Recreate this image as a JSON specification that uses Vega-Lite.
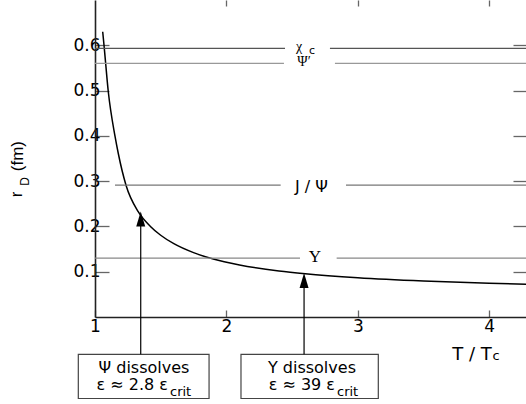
{
  "$schema": "https://vega.github.io/schema/vega-lite/v6.json",
  "width": 431,
  "height": 317,
  "autosize": "none",
  "padding": {"left": 95, "top": 0, "right": 0, "bottom": 87},
  "background": "white",
  "view": {"stroke": null},
  "config": {"axis": {"grid": false, "title": null}},
  "datasets": {
    "curve": [
      {"T": 1.0586, "r": 0.630}, {"T": 1.0685, "r": 0.6005}, {"T": 1.1012, "r": 0.4974},
      {"T": 1.1522, "r": 0.3994}, {"T": 1.1773, "r": 0.361}, {"T": 1.236, "r": 0.291},
      {"T": 1.33, "r": 0.232}, {"T": 1.42, "r": 0.2005}, {"T": 1.5, "r": 0.1805},
      {"T": 1.6, "r": 0.1619}, {"T": 1.75, "r": 0.1421}, {"T": 1.9, "r": 0.128},
      {"T": 2.1, "r": 0.115}, {"T": 2.4, "r": 0.1017}, {"T": 2.6, "r": 0.0955},
      {"T": 3.0, "r": 0.0866}, {"T": 3.5, "r": 0.0793}, {"T": 4.0, "r": 0.0744},
      {"T": 4.28, "r": 0.0723}
    ],
    "levels": [
      {"line": "chi", "T1": 1.0, "T2": 2.446, "r": 0.593},
      {"line": "chi", "T1": 2.788, "T2": 4.28, "r": 0.593},
      {"line": "psi2", "T1": 1.0, "T2": 2.438, "r": 0.56},
      {"line": "psi2", "T1": 2.826, "T2": 4.28, "r": 0.56},
      {"line": "jpsi", "T1": 1.152, "T2": 2.413, "r": 0.291},
      {"line": "jpsi", "T1": 2.91, "T2": 4.28, "r": 0.291},
      {"line": "ups", "T1": 1.0, "T2": 2.56, "r": 0.13},
      {"line": "ups", "T1": 2.839, "T2": 4.28, "r": 0.13}
    ],
    "arrows": [
      {"T": 1.348, "r0": -0.0824, "r1": 0.2166},
      {"T": 2.591, "r0": -0.0824, "r1": 0.0807}
    ],
    "boxes": [
      {"T0": 0.873, "T1": 1.868, "r0": -0.0824, "r1": -0.18},
      {"T0": 2.111, "T1": 3.156, "r0": -0.0824, "r1": -0.18}
    ]
  },
  "layer": [
    {
      "data": {"name": "curve"},
      "mark": {"type": "line", "interpolate": "monotone", "color": "black", "strokeWidth": 1.5},
      "encoding": {
        "x": {"field": "T", "type": "quantitative",
          "scale": {"domain": [1, 4.28], "nice": false, "zero": false},
          "axis": {"orient": "bottom", "values": [1, 2, 3, 4], "format": "d", "tickSize": -7, "labelPadding": 8,
            "labelFlush": false, "domainColor": "#222", "domainWidth": 1.6, "tickColor": "#666", "tickWidth": 1.3,
            "labelFont": "DejaVu Sans", "labelFontSize": 17, "labelColor": "black", "title": null, "grid": false}},
        "y": {"field": "r", "type": "quantitative",
          "scale": {"domain": [0, 0.7], "nice": false, "zero": false},
          "axis": {"orient": "left", "values": [0.1, 0.2, 0.3, 0.4, 0.5, 0.6], "format": ".1f", "tickSize": -14, "labelPadding": 9,
            "domainColor": "#222", "domainWidth": 1.6, "tickColor": "#666", "tickWidth": 1.3,
            "labelFont": "DejaVu Sans", "labelFontSize": 17, "labelColor": "black", "title": null, "grid": false}}
      }
    },
    {
      "data": {"name": "levels"},
      "mark": {"type": "rule", "strokeWidth": 1.3},
      "encoding": {
        "x": {"field": "T1", "type": "quantitative",
          "axis": {"orient": "top", "values": [2, 3, 4], "labels": false, "domain": false, "tickSize": -6,
            "tickColor": "#666", "tickWidth": 1.3, "title": null, "grid": false}},
        "x2": {"field": "T2"},
        "y": {"field": "r", "type": "quantitative",
          "axis": {"orient": "right", "values": [0.1, 0.2, 0.3, 0.4, 0.5, 0.6], "labels": false, "domain": false, "tickSize": -13,
            "tickColor": "#666", "tickWidth": 1.3, "title": null, "grid": false}},
        "color": {"field": "line", "type": "nominal",
          "scale": {"domain": ["chi", "psi2", "jpsi", "ups"], "range": ["#555555", "#999999", "#777777", "#888888"]},
          "legend": null}
      }
    },
    {
      "data": {"name": "boxes"},
      "mark": {"type": "rect", "fill": "white", "stroke": "#444", "strokeWidth": 1.2},
      "encoding": {
        "x": {"field": "T0", "type": "quantitative", "axis": null},
        "x2": {"field": "T1"},
        "y": {"field": "r0", "type": "quantitative", "axis": null},
        "y2": {"field": "r1"}
      }
    },
    {
      "data": {"name": "arrows"},
      "mark": {"type": "rule", "color": "black", "strokeWidth": 1.2},
      "encoding": {
        "x": {"field": "T", "type": "quantitative", "axis": null},
        "y": {"field": "r0", "type": "quantitative", "axis": null},
        "y2": {"field": "r1"}
      }
    },
    {
      "data": {"name": "arrows"},
      "mark": {"type": "point", "shape": "M0,-1L0.6,1L-0.6,1Z", "size": 225, "filled": true, "color": "black", "opacity": 1},
      "encoding": {
        "x": {"field": "T", "type": "quantitative", "axis": null},
        "y": {"field": "r1", "type": "quantitative", "axis": null}
      }
    },
    {
      "data": {"values": [
        {"text": "χ", "T": 2.5525, "r": 0.5884},
        {"text": "Ψ′", "T": 2.5906, "r": 0.5553}
      ]},
      "mark": {"type": "text", "font": "Liberation Serif", "fontSize": 14, "align": "center", "baseline": "alphabetic", "color": "black"},
      "encoding": {
        "x": {"field": "T", "type": "quantitative", "axis": null},
        "y": {"field": "r", "type": "quantitative", "axis": null},
        "text": {"field": "text"}
      }
    },
    {
      "data": {"values": [
        {"text": "Υ", "T": 2.6743, "r": 0.1216}
      ]},
      "mark": {"type": "text", "font": "Liberation Serif", "fontSize": 17, "align": "center", "baseline": "alphabetic", "color": "black"},
      "encoding": {
        "x": {"field": "T", "type": "quantitative", "axis": null},
        "y": {"field": "r", "type": "quantitative", "axis": null},
        "text": {"field": "text"}
      }
    },
    {
      "data": {"values": [
        {"text": "c", "T": 2.6286, "r": 0.5806}
      ]},
      "mark": {"type": "text", "font": "DejaVu Sans", "fontSize": 11, "align": "left", "baseline": "alphabetic", "color": "black"},
      "encoding": {
        "x": {"field": "T", "type": "quantitative", "axis": null},
        "y": {"field": "r", "type": "quantitative", "axis": null},
        "text": {"field": "text"}
      }
    },
    {
      "data": {"values": [
        {"text": "J / Ψ", "T": 2.6476, "r": 0.2768}
      ]},
      "mark": {"type": "text", "font": "DejaVu Sans", "fontSize": 16, "align": "center", "baseline": "alphabetic", "color": "black"},
      "encoding": {
        "x": {"field": "T", "type": "quantitative", "axis": null},
        "y": {"field": "r", "type": "quantitative", "axis": null},
        "text": {"field": "text"}
      }
    },
    {
      "data": {"values": [
        {"text": "Ψ dissolves", "T": 1.373, "r": -0.1233},
        {"text": "Υ dissolves", "T": 2.651, "r": -0.1233}
      ]},
      "mark": {"type": "text", "font": "DejaVu Sans", "fontSize": 16, "align": "center", "baseline": "alphabetic", "color": "black"},
      "encoding": {
        "x": {"field": "T", "type": "quantitative", "axis": null},
        "y": {"field": "r", "type": "quantitative", "axis": null},
        "text": {"field": "text"}
      }
    },
    {
      "data": {"values": [
        {"text": "ε ≈ 2.8 ε", "T": 1.5556, "r": -0.162},
        {"text": "ε ≈ 39 ε", "T": 2.8265, "r": -0.162}
      ]},
      "mark": {"type": "text", "font": "DejaVu Sans", "fontSize": 16, "align": "right", "baseline": "alphabetic", "color": "black"},
      "encoding": {
        "x": {"field": "T", "type": "quantitative", "axis": null},
        "y": {"field": "r", "type": "quantitative", "axis": null},
        "text": {"field": "text"}
      }
    },
    {
      "data": {"values": [
        {"text": "T / T", "T": 4.019, "r": -0.0942}
      ]},
      "mark": {"type": "text", "font": "DejaVu Sans", "fontSize": 18, "align": "right", "baseline": "alphabetic", "color": "black"},
      "encoding": {
        "x": {"field": "T", "type": "quantitative", "axis": null},
        "y": {"field": "r", "type": "quantitative", "axis": null},
        "text": {"field": "text"}
      }
    },
    {
      "data": {"values": [
        {"text": "crit", "T": 1.5708, "r": -0.1753},
        {"text": "crit", "T": 2.8417, "r": -0.1753},
        {"text": "c", "T": 4.025, "r": -0.0942}
      ]},
      "mark": {"type": "text", "font": "DejaVu Sans", "fontSize": 13, "align": "left", "baseline": "alphabetic", "color": "black"},
      "encoding": {
        "x": {"field": "T", "type": "quantitative", "axis": null},
        "y": {"field": "r", "type": "quantitative", "axis": null},
        "text": {"field": "text"}
      }
    },
    {
      "data": {"values": [
        {"text": "r", "T": 0.4444, "r": 0.2646},
        {"text": "(fm)", "T": 0.452, "r": 0.322}
      ]},
      "mark": {"type": "text", "font": "Liberation Sans", "fontSize": 17, "angle": 270, "align": "left", "baseline": "alphabetic", "color": "black"},
      "encoding": {
        "x": {"field": "T", "type": "quantitative", "axis": null},
        "y": {"field": "r", "type": "quantitative", "axis": null},
        "text": {"field": "text"}
      }
    },
    {
      "data": {"values": [
        {"text": "D", "T": 0.4977, "r": 0.29}
      ]},
      "mark": {"type": "text", "font": "Liberation Sans", "fontSize": 12, "angle": 270, "align": "left", "baseline": "alphabetic", "color": "black"},
      "encoding": {
        "x": {"field": "T", "type": "quantitative", "axis": null},
        "y": {"field": "r", "type": "quantitative", "axis": null},
        "text": {"field": "text"}
      }
    }
  ],
  "resolve": {"axis": {"x": "independent", "y": "independent"}}
}
